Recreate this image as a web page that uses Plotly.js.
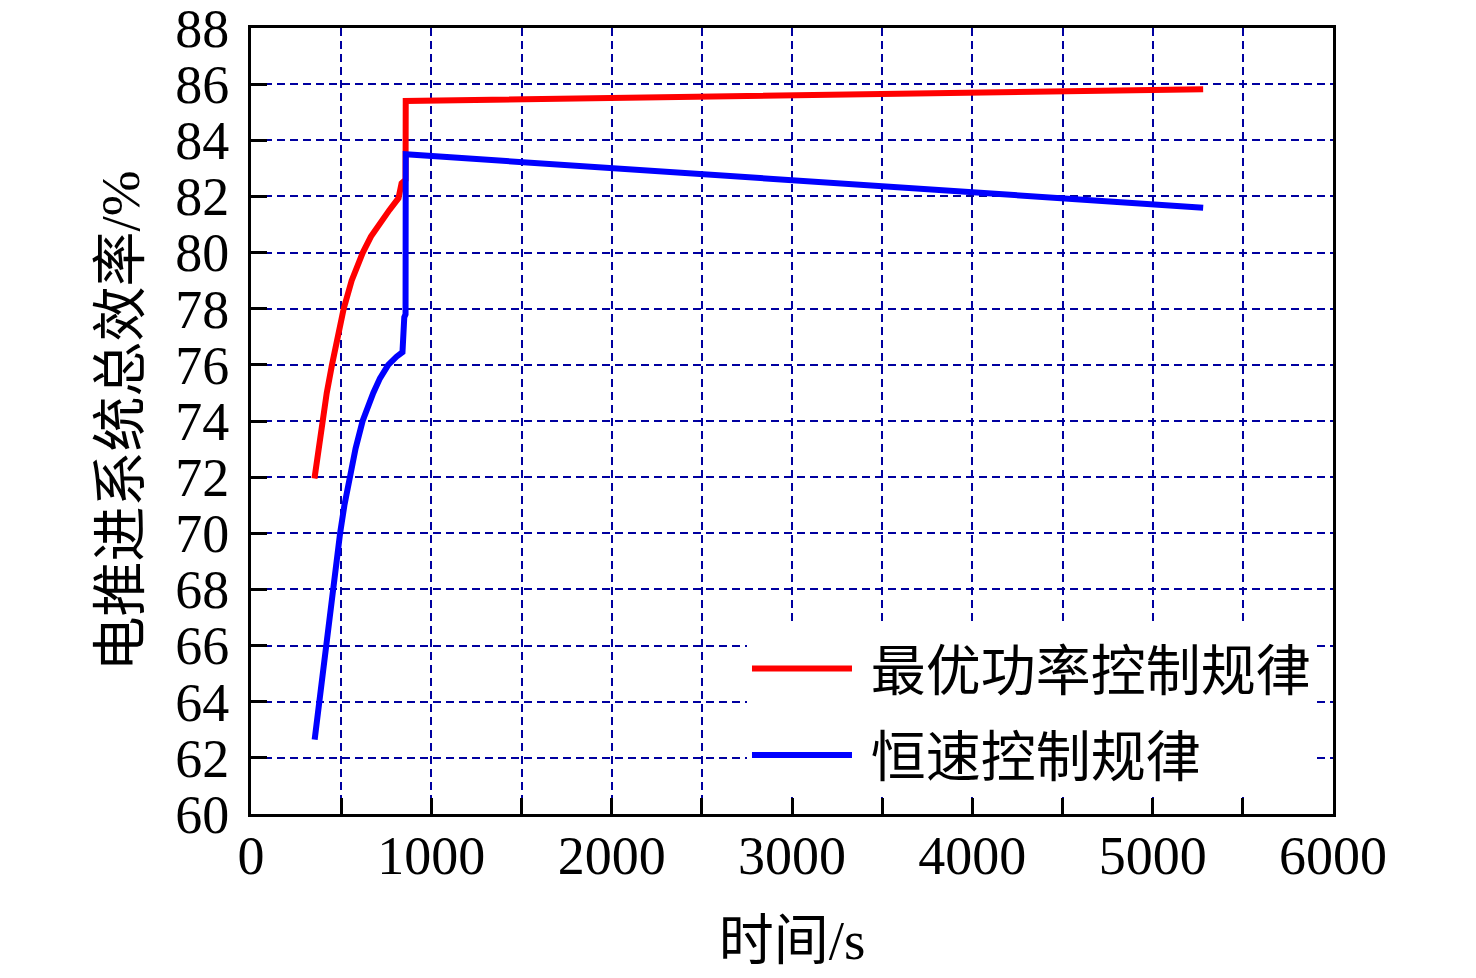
<!DOCTYPE html>
<html>
<head>
<meta charset="utf-8">
<script src="https://cdn.plot.ly/plotly-3.0.1.min.js"></script>
<style>
  html, body { margin: 0; padding: 0; background: #fff; }
  #chart { width: 1476px; height: 978px; }
</style>
</head>
<body>
<div id="chart"></div>
<script>
// 最优功率控制规律 (red)
var optTime = [352, 373, 392, 420, 449, 480, 514, 558, 620, 665, 712, 768, 818, 835, 857, 858, 5280];
var optEff  = [71.95, 72.97, 74.0, 75.0, 76.0, 77.0, 78.0, 79.0, 80.0, 80.57, 81.04, 81.52, 81.94, 82.47, 82.6, 85.4, 85.82];

// 恒速控制规律 (blue)
var constTime = [353, 379, 397, 416, 434, 453, 471, 494, 518, 549, 580, 619, 645, 678, 715, 761, 807, 840, 850, 857, 858, 5280];
var constEff  = [62.65, 64.0, 65.0, 66.0, 67.0, 68.0, 69.0, 70.0, 71.0, 72.0, 73.02, 74.0, 74.51, 75.0, 75.52, 76.0, 76.29, 76.45, 77.7, 77.8, 83.5, 81.6];

var names = ['\u00a0最优功率控制规律', '\u00a0恒速控制规律'];

var fontFam = 'Liberation Serif, Times New Roman, Noto Sans CJK SC, serif';
var gridCol = '#0000a0';

var data = [
    {
        x: optTime, y: optEff,
        mode: 'lines',
        name: names[0],
        legendgroup: 'a',
        line: {color: '#ff0000', width: 6},
        type: 'scatter'
    },
    {
        x: constTime, y: constEff,
        mode: 'lines',
        name: names[1],
        legendgroup: 'b',
        line: {color: '#0000ff', width: 6},
        type: 'scatter'
    }
];

var layout = {
    width: 1476,
    height: 978,
    margin: {l: 251, r: 143, t: 28, b: 164},
    paper_bgcolor: '#fff',
    plot_bgcolor: '#fff',
    font: {family: fontFam, size: 54, color: '#000'},
    showlegend: true,
    legend: {
        x: 0.4584, y: 0.239,
        xanchor: 'left', yanchor: 'top',
        bgcolor: '#fff',
        borderwidth: 0,
        traceorder: 'grouped',
        tracegroupgap: 12,
        itemwidth: 100,
        font: {family: fontFam, size: 55, color: '#000'}
    },
    xaxis: {
        range: [0, 6000],
        dtick: 1000,
        tick0: 0,
        ticks: 'inside',
        ticklen: 16,
        tickwidth: 3,
        tickcolor: '#000',
        showline: true,
        linewidth: 3,
        linecolor: '#000',
        mirror: true,
        zeroline: false,
        showgrid: true,
        gridcolor: gridCol,
        gridwidth: 2,
        griddash: '8px,5px',
        minor: {
            dtick: 500,
            ticks: 'inside',
            ticklen: 16,
            tickwidth: 3,
            tickcolor: '#000',
            showgrid: true,
            gridcolor: gridCol,
            gridwidth: 2,
            griddash: '8px,5px'
        },
        ticklabelstandoff: -8,
        ticklabeloverflow: 'allow',
        tickfont: {family: fontFam, size: 54, color: '#000'},
        title: {
            text: '时间/s',
            font: {family: fontFam, size: 55, color: '#000'},
            standoff: 36
        }
    },
    yaxis: {
        range: [60, 88],
        dtick: 2,
        tick0: 60,
        ticks: 'inside',
        ticklen: 16,
        tickwidth: 3,
        tickcolor: '#000',
        showline: true,
        linewidth: 3,
        linecolor: '#000',
        mirror: true,
        zeroline: false,
        showgrid: true,
        gridcolor: gridCol,
        gridwidth: 2,
        griddash: '8px,5px',
        ticklabelstandoff: 8,
        ticklabeloverflow: 'allow',
        tickfont: {family: fontFam, size: 54, color: '#000'},
        title: {
            text: '电推进系统总效率/%',
            font: {family: fontFam, size: 55, color: '#000'},
            standoff: 18
        }
    }
};

Plotly.newPlot('chart', data, layout, {displayModeBar: false, staticPlot: true});
</script>
</body>
</html>
